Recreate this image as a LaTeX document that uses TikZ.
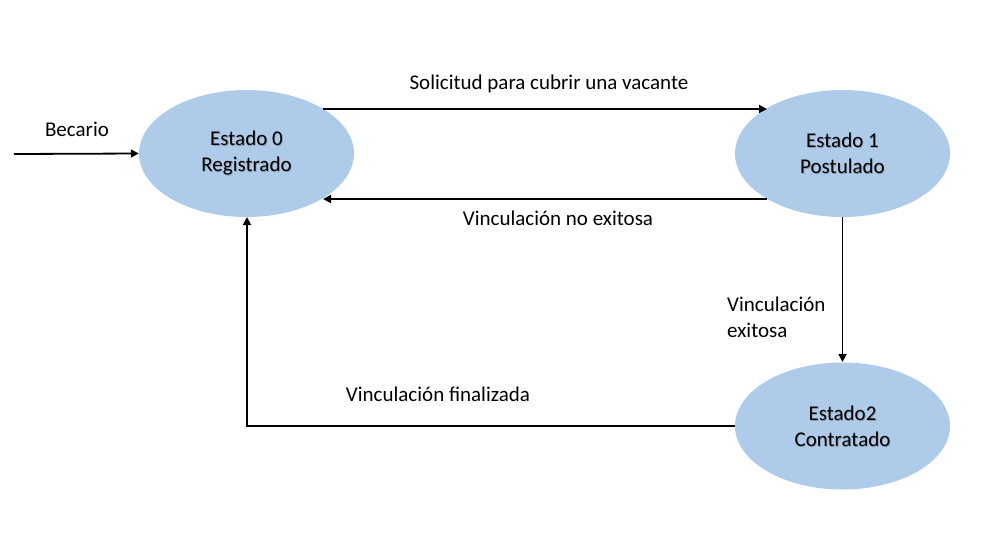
\documentclass[tikz,border=0pt]{standalone}
\usepackage{fontspec}
\setmainfont{Carlito}
\usetikzlibrary{arrows.meta,shapes.geometric}
\definecolor{stfill}{HTML}{AECBEA}
\definecolor{shadowgray}{HTML}{8C9CAC}
\tikzset{
  state/.style={ellipse, fill=stfill, minimum width=215pt, minimum height=127pt, inner sep=0pt},
  conn/.style={line width=1.8pt, -{Triangle[length=8pt,width=8pt]}},
  lbl/.style={font=\fontsize{21pt}{25.5pt}\selectfont, inner sep=0pt},
  stxt/.style={font=\fontsize{21pt}{26pt}\selectfont, align=center, inner sep=0pt}
}
\begin{document}
\begin{tikzpicture}[x=1pt,y=-1pt]
\useasboundingbox (0,0) rectangle (991,558);
% states
\node[state] (s0) at (246.5,153.5) {};
\node[state] (s1) at (842.5,153.5) {};
\node[state] (s2) at (842.5,426) {};
% state texts with shadow
\node[stxt, text=shadowgray] at (247.3,154.3) {Estado 0\\Registrado};
\node[stxt] (t0) at (246.5,153.5) {Estado 0\\Registrado};
\node[stxt, text=shadowgray] at (843.3,154.3) {Estado 1\\Postulado};
\node[stxt] (t1) at (842.5,153.5) {Estado 1\\Postulado};
\node[stxt, text=shadowgray] at (843.3,426.8) {Estado2\\Contratado};
\node[stxt] (t2) at (842.5,426) {Estado2\\Contratado};
% coordinates
\coordinate (start) at (14,154);
\coordinate (a1) at (323,109);
\coordinate (b1) at (767,109);
\coordinate (a2) at (767,199);
\coordinate (b2) at (323,199);
\coordinate (v1) at (842.5,217);
\coordinate (v2) at (842.5,362);
\coordinate (h1) at (735,426);
\coordinate (h2) at (247,217);
% connectors
\draw[conn] (start) -- (s0.west);
\draw[conn] (a1) -- (b1);
\draw[conn] (a2) -- (b2);
\draw[conn] (v1) -- (v2);
\draw[conn] (h1) -| (h2);
% labels
\node[lbl] (l0) at (77,129) {Becario};
\node[lbl] (l1) at (549,84) {Solicitud para cubrir una vacante};
\node[lbl] (l2) at (558,218) {Vinculación no exitosa};
\node[lbl, align=left, anchor=west] (l3) at (727,317.5) {Vinculación\\exitosa};
\node[lbl] (l4) at (438,394) {Vinculación finalizada};
\end{tikzpicture}
\end{document}
